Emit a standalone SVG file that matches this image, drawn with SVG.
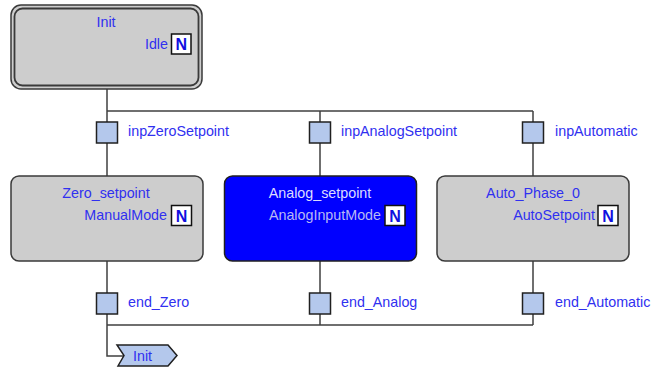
<svg xmlns="http://www.w3.org/2000/svg" width="652" height="369" viewBox="0 0 652 369">
<style>
  .bg { fill: #ffffff; }
  .step { fill: #cdcdcd; stroke: #3a3a3a; stroke-width: 1.5; }
  .active { fill: #0000ff; stroke: #202020; stroke-width: 1.5; }
  .wire { fill: none; stroke: #404040; stroke-width: 1.5; }
  .trans { fill: #b4c8ec; stroke: #202020; stroke-width: 1.5; }
  .t { font-family: "Liberation Sans", Arial, sans-serif; font-size: 14.3px; fill: #3030f0; }
  .title { text-anchor: middle; }
  .act { text-anchor: end; }
  .actA { fill: #b8b8f4; }
  .titleA { fill: #dcdcff; }
  .nbox { fill: #ffffff; stroke: #101010; stroke-width: 1.5; }
  .n { font-family: "Liberation Sans", Arial, sans-serif; font-size: 16px; font-weight: bold; fill: #1010e0; text-anchor: middle; }
</style>
<rect class="bg" x="0" y="0" width="652" height="369"/>

<g id="connectors">
  <path class="wire" d="M107 89 V176 M320 111 V176 M533 111 V176 M107 111 H533"/>
  <path class="wire" d="M107 261 V356 H123 M320 261 V325 M533 261 V325 M107 325 H533"/>
</g>

<g id="step-Init">
  <rect class="step" x="11" y="5" width="191" height="84" rx="10" stroke-width="2.2"/>
  <rect x="14.5" y="8.5" width="184" height="77" rx="8" fill="none" stroke="#3a3a3a" stroke-width="1.8"/>
  <text class="t title" x="106" y="27">Init</text>
  <text class="t act" x="168" y="49">Idle</text>
  <rect class="nbox" x="171.5" y="34" width="19.5" height="20"/>
  <text class="n" x="181.3" y="50">N</text>
</g>

<g id="trans-inpZeroSetpoint">
  <rect class="trans" x="96.5" y="122" width="21" height="21"/>
  <text class="t" x="128" y="136">inpZeroSetpoint</text>
</g>
<g id="trans-inpAnalogSetpoint">
  <rect class="trans" x="309.5" y="122" width="21" height="21"/>
  <text class="t" x="341" y="136">inpAnalogSetpoint</text>
</g>
<g id="trans-inpAutomatic">
  <rect class="trans" x="522.5" y="122" width="21" height="21"/>
  <text class="t" x="555" y="136">inpAutomatic</text>
</g>

<g id="step-Zero_setpoint">
  <rect class="step" x="11" y="176" width="192" height="85" rx="8"/>
  <text class="t title" x="106" y="198">Zero_setpoint</text>
  <text class="t act" x="167" y="220">ManualMode</text>
  <rect class="nbox" x="171.5" y="205.5" width="20" height="20"/>
  <text class="n" x="181.5" y="221.5">N</text>
</g>

<g id="step-Analog_setpoint">
  <rect class="active" x="224.5" y="176" width="192" height="85" rx="8"/>
  <text class="t title titleA" x="320" y="198">Analog_setpoint</text>
  <text class="t act actA" x="381" y="220">AnalogInputMode</text>
  <rect class="nbox" x="385" y="205.5" width="20" height="20"/>
  <text class="n" x="395" y="221.5">N</text>
</g>

<g id="step-Auto_Phase_0">
  <rect class="step" x="437" y="176" width="192" height="85" rx="8"/>
  <text class="t title" x="533" y="198">Auto_Phase_0</text>
  <text class="t act" x="595" y="220">AutoSetpoint</text>
  <rect class="nbox" x="598" y="205.5" width="20" height="20"/>
  <text class="n" x="608" y="221.5">N</text>
</g>

<g id="trans-end_Zero">
  <rect class="trans" x="96.5" y="293" width="21" height="21"/>
  <text class="t" x="128" y="307">end_Zero</text>
</g>
<g id="trans-end_Analog">
  <rect class="trans" x="309.5" y="293" width="21" height="21"/>
  <text class="t" x="341" y="307">end_Analog</text>
</g>
<g id="trans-end_Automatic">
  <rect class="trans" x="522.5" y="293" width="21" height="21"/>
  <text class="t" x="555" y="307">end_Automatic</text>
</g>

<g id="jump-Init">
  <polygon class="trans" stroke="#404040" stroke-width="1.2" points="117,345 168,345 177,355.5 168,366 118,366 124,355.5"/>
  <text class="t" x="133" y="360.5">Init</text>
</g>
</svg>
